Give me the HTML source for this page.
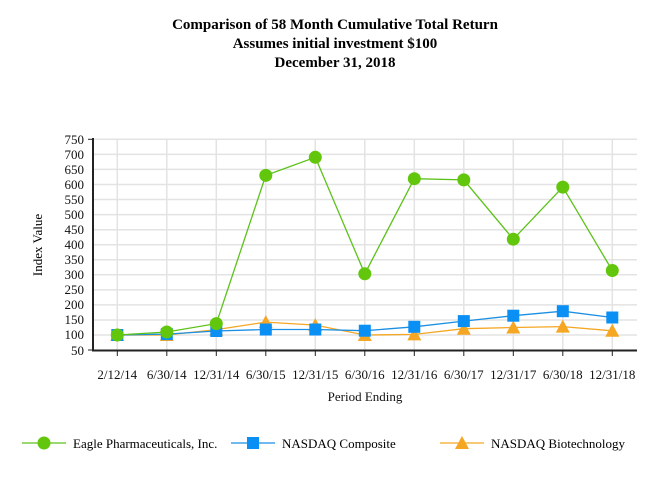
<!DOCTYPE html>
<html><head><meta charset="utf-8"><style>
body{margin:0;background:#fff;}
svg{display:block;font-family:"Liberation Serif",serif;}
</style></head><body>
<svg width="670" height="480" xmlns="http://www.w3.org/2000/svg">
<g font-weight="bold" font-size="15" text-anchor="middle" fill="#000">
<text x="335" y="29">Comparison of  58 Month Cumulative Total Return</text>
<text x="335" y="48">Assumes initial investment $100</text>
<text x="335" y="67">December 31, 2018</text>
</g>
<g stroke="#e3e3e3" stroke-width="1.5">
<line x1="93" x2="637" y1="139.3" y2="139.3"/><line x1="93" x2="637" y1="154.4" y2="154.4"/><line x1="93" x2="637" y1="169.4" y2="169.4"/><line x1="93" x2="637" y1="184.5" y2="184.5"/><line x1="93" x2="637" y1="199.5" y2="199.5"/><line x1="93" x2="637" y1="214.6" y2="214.6"/><line x1="93" x2="637" y1="229.7" y2="229.7"/><line x1="93" x2="637" y1="244.7" y2="244.7"/><line x1="93" x2="637" y1="259.8" y2="259.8"/><line x1="93" x2="637" y1="274.8" y2="274.8"/><line x1="93" x2="637" y1="289.9" y2="289.9"/><line x1="93" x2="637" y1="304.9" y2="304.9"/><line x1="93" x2="637" y1="320" y2="320"/><line x1="93" x2="637" y1="335" y2="335"/>
<line x1="117.3" x2="117.3" y1="139" y2="350"/><line x1="166.8" x2="166.8" y1="139" y2="350"/><line x1="216.3" x2="216.3" y1="139" y2="350"/><line x1="265.8" x2="265.8" y1="139" y2="350"/><line x1="315.3" x2="315.3" y1="139" y2="350"/><line x1="364.8" x2="364.8" y1="139" y2="350"/><line x1="414.3" x2="414.3" y1="139" y2="350"/><line x1="463.8" x2="463.8" y1="139" y2="350"/><line x1="513.3" x2="513.3" y1="139" y2="350"/><line x1="562.8" x2="562.8" y1="139" y2="350"/><line x1="612.3" x2="612.3" y1="139" y2="350"/>
</g>
<g stroke="#222" stroke-width="2"><line x1="93" y1="138" x2="93" y2="351"/><line x1="92" y1="350.5" x2="637" y2="350.5"/></g>
<g stroke="#222" stroke-width="1">
<line x1="88" x2="93" y1="139.3" y2="139.3"/><line x1="88" x2="93" y1="350" y2="350"/>
<line x1="117.3" x2="117.3" y1="351" y2="356"/><line x1="166.8" x2="166.8" y1="351" y2="356"/><line x1="216.3" x2="216.3" y1="351" y2="356"/><line x1="265.8" x2="265.8" y1="351" y2="356"/><line x1="315.3" x2="315.3" y1="351" y2="356"/><line x1="364.8" x2="364.8" y1="351" y2="356"/><line x1="414.3" x2="414.3" y1="351" y2="356"/><line x1="463.8" x2="463.8" y1="351" y2="356"/><line x1="513.3" x2="513.3" y1="351" y2="356"/><line x1="562.8" x2="562.8" y1="351" y2="356"/><line x1="612.3" x2="612.3" y1="351" y2="356"/>
</g>
<g font-size="13" text-anchor="end" fill="#111">
<text x="84" y="144">750</text><text x="84" y="159">700</text><text x="84" y="174">650</text><text x="84" y="189">600</text><text x="84" y="204">550</text><text x="84" y="219">500</text><text x="84" y="234">450</text><text x="84" y="249">400</text><text x="84" y="264">350</text><text x="84" y="279">300</text><text x="84" y="294">250</text><text x="84" y="309">200</text><text x="84" y="324">150</text><text x="84" y="339">100</text><text x="84" y="355">50</text>
</g>
<text transform="translate(42,245) rotate(-90)" font-size="13" text-anchor="middle">Index Value</text>
<g font-size="13" text-anchor="middle" fill="#111">
<text x="117.3" y="379">2/12/14</text><text x="166.8" y="379">6/30/14</text><text x="216.3" y="379">12/31/14</text><text x="265.8" y="379">6/30/15</text><text x="315.3" y="379">12/31/15</text><text x="364.8" y="379">6/30/16</text><text x="414.3" y="379">12/31/16</text><text x="463.8" y="379">6/30/17</text><text x="513.3" y="379">12/31/17</text><text x="562.8" y="379">6/30/18</text><text x="612.3" y="379">12/31/18</text>
<text x="365" y="401">Period Ending</text>
</g>
<!-- Biotech -->
<polyline fill="none" stroke="#f5a623" stroke-width="1.3" points="117.3,335 166.8,335 216.3,329.6 265.8,322.1 315.3,325.1 364.8,335 414.3,334.4 463.8,328.7 513.3,327.5 562.8,326.6 612.3,330.8"/>
<g fill="#f5a623">
<polygon points="117.3,328 110.3,341 124.3,341"/><polygon points="166.8,328 159.8,341 173.8,341"/><polygon points="216.3,322.6 209.3,335.6 223.3,335.6"/><polygon points="265.8,315.1 258.8,328.1 272.8,328.1"/><polygon points="315.3,318.1 308.3,331.1 322.3,331.1"/><polygon points="364.8,328 357.8,341 371.8,341"/><polygon points="414.3,327.4 407.3,340.4 421.3,340.4"/><polygon points="463.8,321.7 456.8,334.7 470.8,334.7"/><polygon points="513.3,320.5 506.3,333.5 520.3,333.5"/><polygon points="562.8,319.6 555.8,332.6 569.8,332.6"/><polygon points="612.3,323.8 605.3,336.8 619.3,336.8"/>
</g>
<!-- NASDAQ -->
<polyline fill="none" stroke="#1a8fe3" stroke-width="1.3" points="117.3,335 166.8,334.1 216.3,331 265.8,329.5 315.3,329.5 364.8,330.7 414.3,326.8 463.8,321.1 513.3,315.7 562.8,311.2 612.3,317.5"/>
<g fill="#0a8ff5">
<rect x="111.3" y="329" width="12" height="12"/><rect x="160.8" y="328.1" width="12" height="12"/><rect x="210.3" y="325" width="12" height="12"/><rect x="259.8" y="323.5" width="12" height="12"/><rect x="309.3" y="323.5" width="12" height="12"/><rect x="358.8" y="324.7" width="12" height="12"/><rect x="408.3" y="320.8" width="12" height="12"/><rect x="457.8" y="315.1" width="12" height="12"/><rect x="507.3" y="309.7" width="12" height="12"/><rect x="556.8" y="305.2" width="12" height="12"/><rect x="606.3" y="311.5" width="12" height="12"/>
</g>
<!-- Eagle -->
<polyline fill="none" stroke="#5cc21a" stroke-width="1.3" points="117.3,335 166.8,332 216.3,323.6 265.8,175.4 315.3,157.3 364.8,273.8 414.3,178.7 463.8,179.9 513.3,239.2 562.8,187.1 612.3,270.5"/>
<g fill="#62c60c">
<circle cx="117.3" cy="335" r="6.5"/><circle cx="166.8" cy="332" r="6.5"/><circle cx="216.3" cy="323.6" r="6.5"/><circle cx="265.8" cy="175.4" r="6.5"/><circle cx="315.3" cy="157.3" r="6.5"/><circle cx="364.8" cy="273.8" r="6.5"/><circle cx="414.3" cy="178.7" r="6.5"/><circle cx="463.8" cy="179.9" r="6.5"/><circle cx="513.3" cy="239.2" r="6.5"/><circle cx="562.8" cy="187.1" r="6.5"/><circle cx="612.3" cy="270.5" r="6.5"/>
</g>
<!-- Legend -->
<line x1="22" x2="66" y1="443" y2="443" stroke="#5cc21a" stroke-width="1.3"/><circle cx="44" cy="443" r="6.5" fill="#62c60c"/>
<text x="73" y="448" font-size="13">Eagle Pharmaceuticals, Inc.</text>
<line x1="231" x2="275" y1="443" y2="443" stroke="#1a8fe3" stroke-width="1.3"/><rect x="247" y="437" width="12" height="12" fill="#0a8ff5"/>
<text x="282" y="448" font-size="13">NASDAQ Composite</text>
<line x1="440" x2="484" y1="443" y2="443" stroke="#f5a623" stroke-width="1.3"/><polygon points="462,436 455,449 469,449" fill="#f5a623"/>
<text x="491" y="448" font-size="13">NASDAQ Biotechnology</text>
</svg>
</body></html>
